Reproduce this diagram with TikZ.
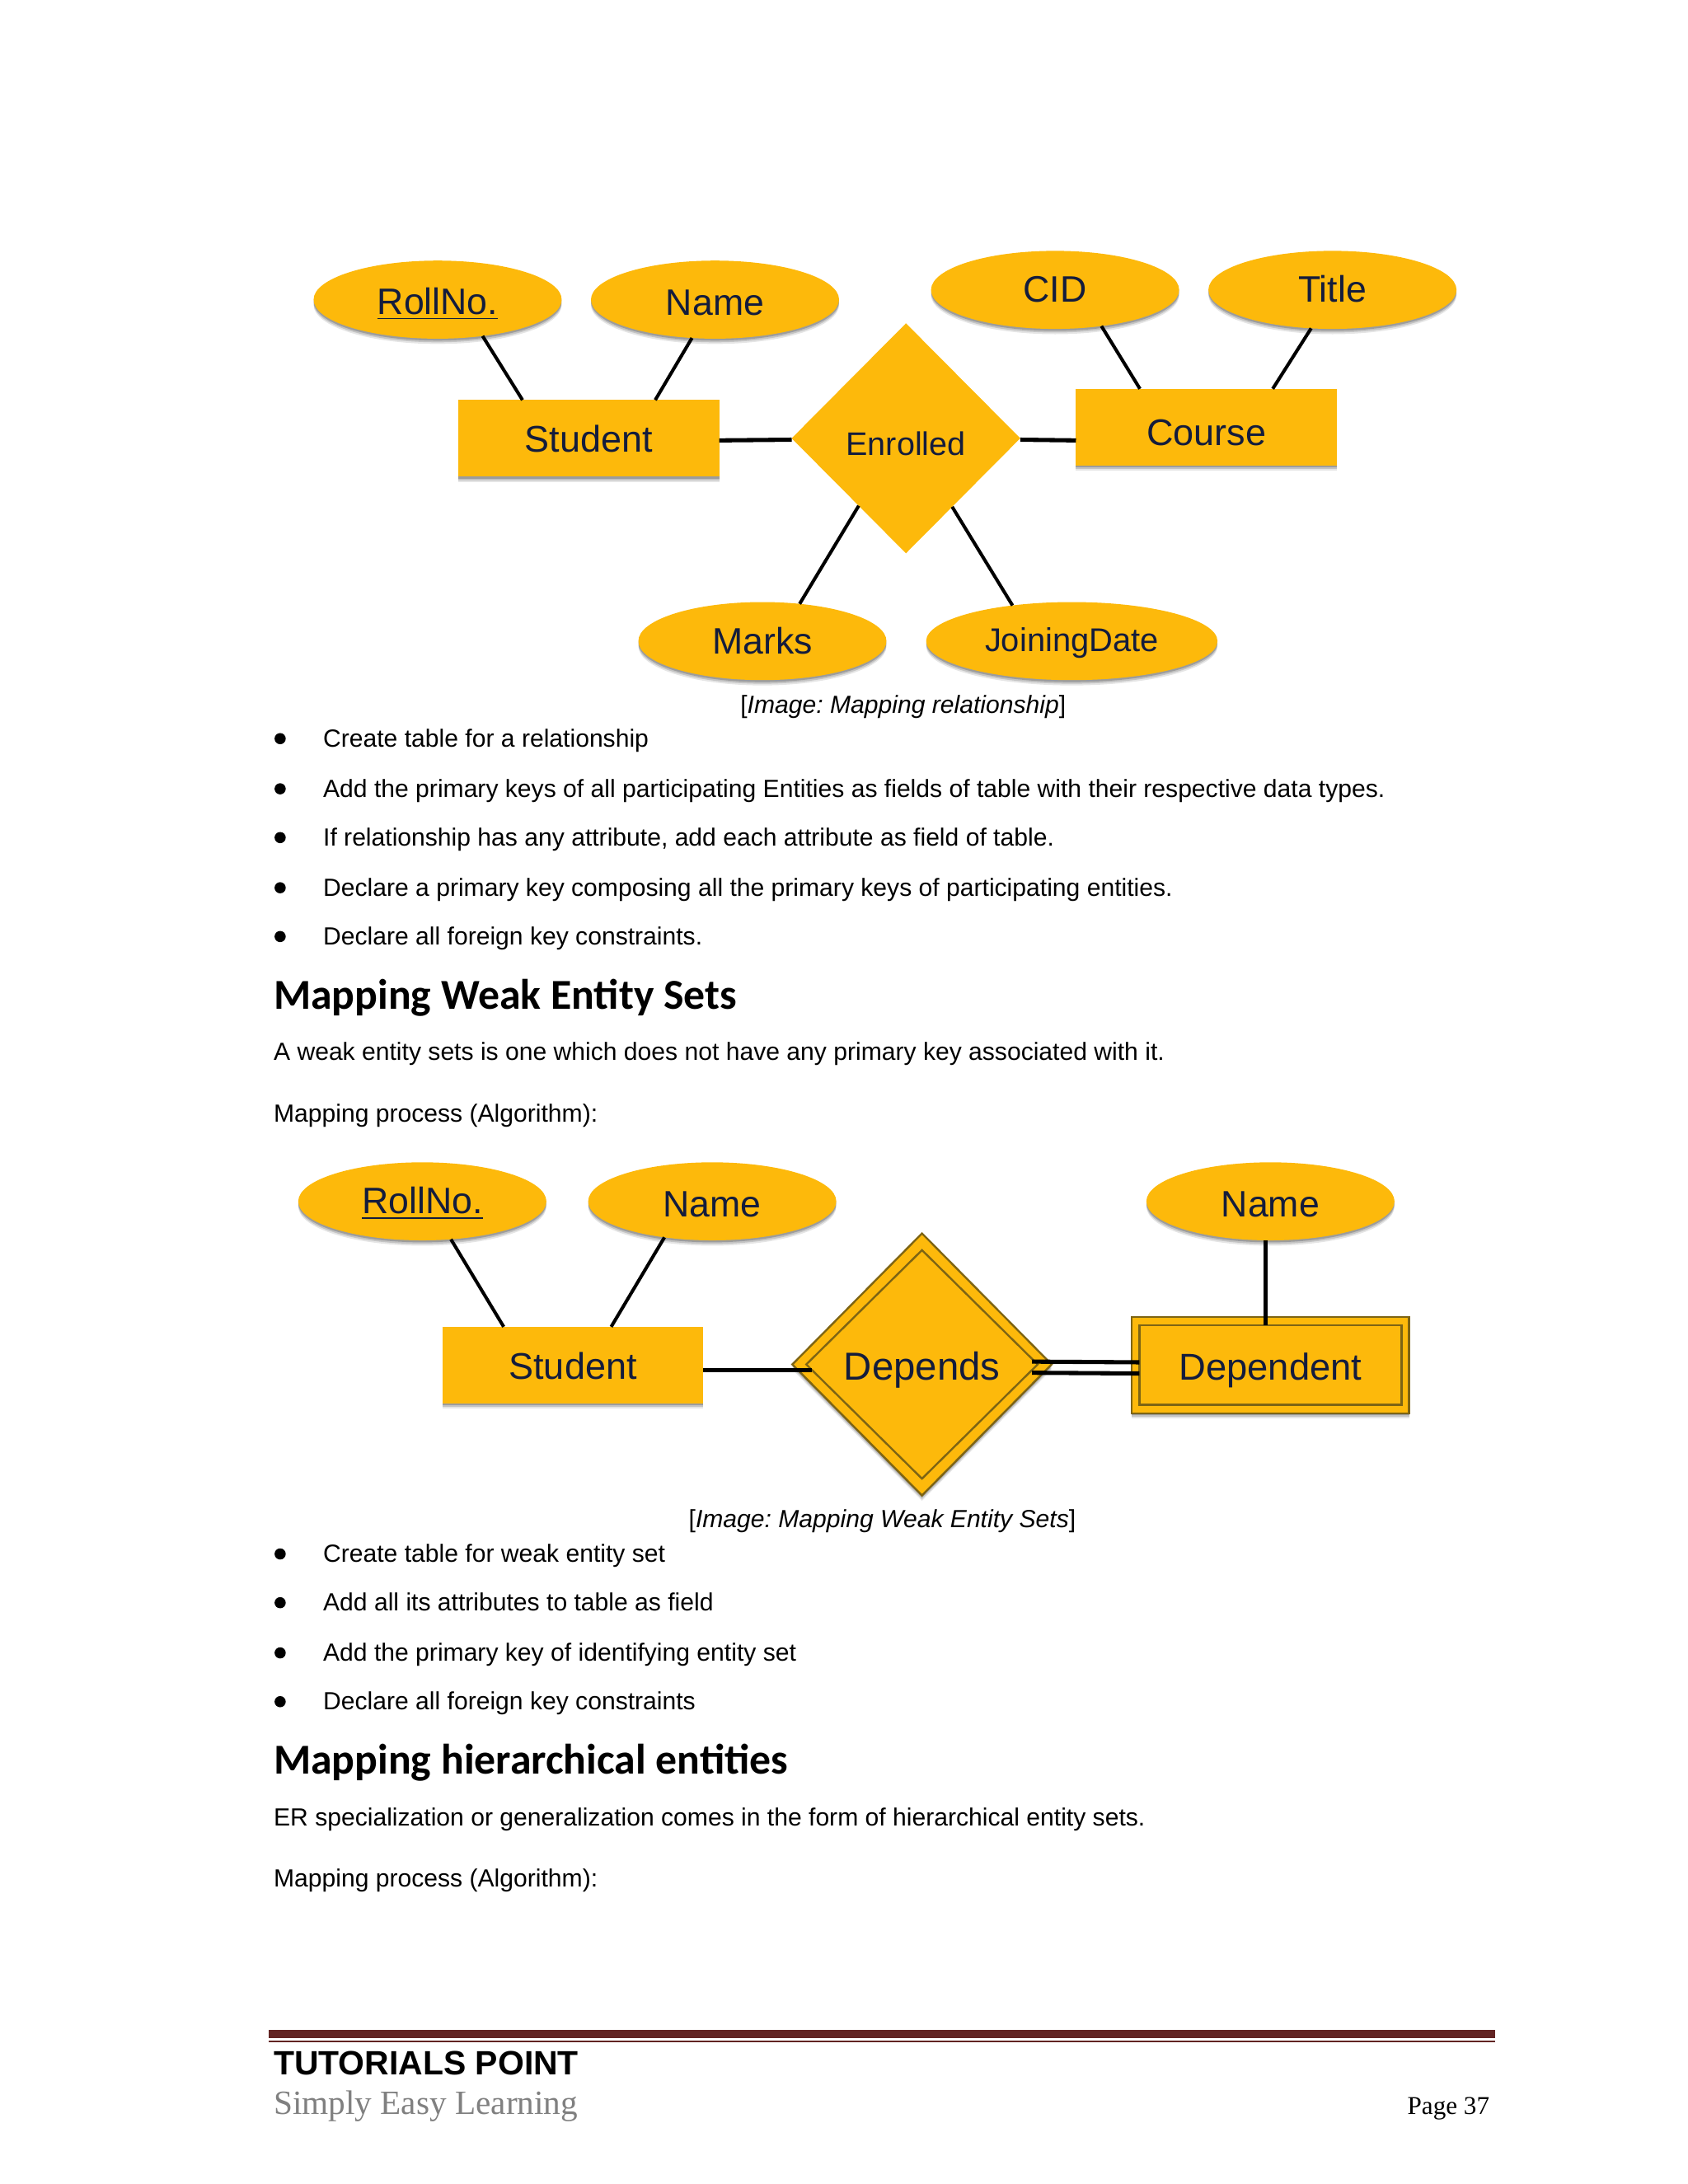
\documentclass[tikz,border=0pt]{standalone}
\usepackage{fontspec}
\usetikzlibrary{shapes,shadows}
\setmainfont{Liberation Sans}
\newfontfamily\headfont{Carlito}
\newfontfamily\footfont{Liberation Serif}
\frenchspacing
\definecolor{gold}{HTML}{FDB90B}
\definecolor{navy}{HTML}{141C3C}
\definecolor{edge}{HTML}{7D6414}
\definecolor{rulered}{HTML}{622423}
\tikzset{
  shade/.style={drop shadow={shadow xshift=0pt,shadow yshift=-1.9pt,opacity=.10,fill=black},
    drop shadow={shadow xshift=0pt,shadow yshift=-1.3pt,opacity=.15,fill=black},
    drop shadow={shadow xshift=0pt,shadow yshift=-.7pt,opacity=.2,fill=black}},
  er/.style={fill=gold,text=navy,inner sep=0pt,outer sep=0pt,text height=10pt,text depth=0pt},
  attr/.style={er,ellipse,shade,minimum width=89pt,minimum height=28pt,font=\fontsize{13.2}{15}\selectfont},
  entity/.style={er,rectangle,shade,minimum width=93.5pt,minimum height=27.5pt,font=\fontsize{13.3}{15}\selectfont},
  link/.style={black,line width=1.2pt},
  heavy/.style={black,line width=1.5pt},
  body/.style={anchor=base west,inner sep=0pt,font=\fontsize{8.9}{11}\selectfont},
  capt/.style={anchor=base,inner sep=0pt,font=\fontsize{8.9}{11}\selectfont},
  head/.style={anchor=base west,inner sep=0pt,font=\headfont\bfseries\fontsize{15.3}{18}\selectfont},
}
\begin{document}
\begin{tikzpicture}[x=0.5pt,y=-0.5pt]
        \useasboundingbox (0,0) rectangle (1211,1567.1);
        % first diagram
        \node[attr,text height=10.5pt] (rollno) at (314,215) {\underline{RollNo.}};
        \node[attr,text height=11pt] (name) at (513,215) {Name};
        \node[attr,text height=9pt] (cid) at (757,208) {CID};
        \node[attr,text height=9pt] (title) at (956,208) {Title};
        \node[attr,text height=9pt] (marks) at (547,460) {Marks};
        \node[attr,minimum width=104.5pt,font=\fontsize{11.8}{14}\selectfont,text height=7.5pt] (joining) at (769,460) {JoiningDate};
        \node[entity] (student) at (422.5,314.5) {Student};
        \node[entity,text height=13pt] (course) at (865.5,306.5) {Course};
        \node[er,diamond,aspect=1,minimum width=82pt,minimum height=82.5pt,text height=12.5pt,font=\fontsize{11.7}{14}\selectfont] (enrolled) at (650,314.5) {Enrolled};
        \draw[link] (rollno.-39) -- (student.150);
        \draw[link] (name.239) -- (student.30);
        \draw[link] (cid.-38) -- (course.150);
        \draw[link] (title.241) -- (course.30);
        \draw[heavy] ([yshift=-.75pt]student.east) -- ([yshift=-.5pt]enrolled.west);
        \draw[heavy] ([yshift=-.5pt]enrolled.east) -- ([yshift=-4.75pt]course.west);
        \draw[link] (enrolled.235) -- (marks.45);
        \draw[link] (enrolled.-56) -- (joining.149);
        \node[capt] (capone) at (648,512) {[\textit{Image: Mapping relationship}]};
        % second diagram
        \node[attr,text height=9pt] (rollnotwo) at (303,862) {\underline{RollNo.}};
        \node[attr,text height=11pt] (nametwo) at (511,862) {Name};
        \node[attr,text height=11pt] (namedep) at (911.5,862) {Name};
        \node[entity] (studenttwo) at (411,979.5) {Student};
        \node[er,diamond,shade,draw=edge,line width=.7pt,aspect=1,minimum width=93pt,minimum height=94pt] (dependsout) at (661.5,979) {};
        \node[er,diamond,draw=edge,line width=.7pt,aspect=1,minimum width=83pt,minimum height=82pt,text height=11pt,font=\fontsize{14}{16}\selectfont] (depends) at (661.5,979) {Depends};
        \node[er,rectangle,shade,draw=edge,line width=.7pt,minimum width=99.5pt,minimum height=34.5pt] (dependentout) at (911.5,979.5) {};
        \node[er,rectangle,draw=edge,line width=.7pt,minimum width=94pt,minimum height=28.5pt,text height=10.5pt,font=\fontsize{13.4}{15}\selectfont] (dependent) at (911.5,979.5) {Dependent};
        \draw[link] (rollnotwo.-53) -- (studenttwo.151);
        \draw[link] (nametwo.217) -- (studenttwo.45.5);
        \draw[link] ([xshift=-1.75pt]namedep.south) -- ([xshift=-1.75pt]dependent.north);
        \draw[heavy] ([yshift=-1.75pt]studenttwo.east) -- ([yshift=-2pt,xshift=2pt]depends.west);
        \draw[heavy] ([yshift=1pt,xshift=-2pt]depends.east) -- ([yshift=1pt]dependent.west);
        \draw[heavy] ([yshift=-3pt,xshift=-2pt]depends.east) -- ([yshift=-3pt]dependent.west);
        \node[capt] (captwo) at (633,1096) {[\textit{Image: Mapping Weak Entity Sets}]};
        % bullet lists
        \foreach \n/\y/\t in {a/536/Create table for a relationship,
          b/572/Add the primary keys of all participating Entities as fields of table with their respective data types.,
          c/607/If relationship has any attribute{,} add each attribute as field of table.,
          d/643/Declare a primary key composing all the primary keys of participating entities.,
          e/678/Declare all foreign key constraints.,
          f/1121/Create table for weak entity set,
          g/1156/Add all its attributes to table as field,
          h/1192/Add the primary key of identifying entity set,
          i/1227/Declare all foreign key constraints}
        {
        \draw[fill] (201,\y-6) circle [radius=3.6];
        \node[body] (item\n) at (231.5,\y) {\t};
        }
        % headings and plain lines
        \node[head] (headweak) at (196,724) {Mapping Weak Entity Sets};
        \node[body] (weaktext) at (196,761) {A weak entity sets is one which does not have any primary key associated with it.};
        \node[body] (weakalgo) at (196,805) {Mapping process (Algorithm):};
        \node[head] (headhier) at (196,1273) {Mapping hierarchical entities};
        \node[body] (hiertext) at (196,1310) {ER specialization or generalization comes in the form of hierarchical entity sets.};
        \node[body] (hieralgo) at (196,1354) {Mapping process (Algorithm):};
        % footer
        \fill[rulered] (193,1456.5) rectangle (1073,1462.5);
        \fill[rulered] (193,1464) rectangle (1073,1465.5);
        \node[anchor=base west,inner sep=0pt,font=\bfseries\fontsize{12.1}{15}\selectfont] (brand) at (196,1489) {TUTORIALS POINT};
        \node[anchor=base west,inner sep=0pt,text=black!50,font=\footfont\fontsize{12.2}{15}\selectfont] (slogan) at (196,1517) {Simply Easy Learning};
        \node[anchor=base east,inner sep=0pt,font=\footfont\fontsize{9.2}{11}\selectfont] (page) at (1069,1517) {Page 37};
        \end{tikzpicture}
\end{document}
